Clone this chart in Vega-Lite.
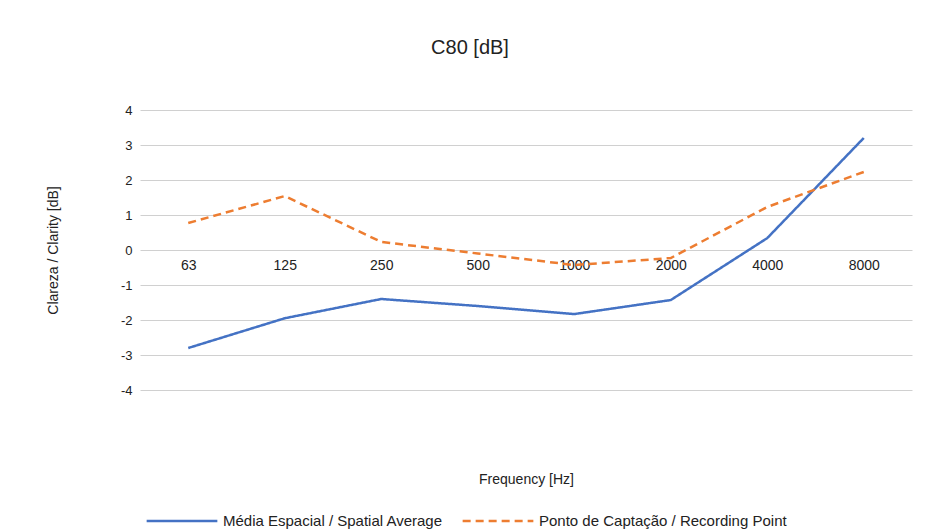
{
  "$schema": "https://vega.github.io/schema/vega-lite/v6.json",
  "width": 772,
  "height": 280,
  "autosize": "none",
  "padding": {"left": 140, "top": 110, "right": 21, "bottom": 142},
  "background": "#ffffff",
  "title": {"text": "C80 [dB]", "fontSize": 20, "font": "Liberation Sans", "fontWeight": "normal", "color": "#222222", "offset": 46, "dx": -56},
  "data": {
    "values": [
      {"f": "63", "s": "Média Espacial / Spatial Average", "v": -2.8},
      {"f": "125", "s": "Média Espacial / Spatial Average", "v": -1.95},
      {"f": "250", "s": "Média Espacial / Spatial Average", "v": -1.4},
      {"f": "500", "s": "Média Espacial / Spatial Average", "v": -1.6},
      {"f": "1000", "s": "Média Espacial / Spatial Average", "v": -1.83},
      {"f": "2000", "s": "Média Espacial / Spatial Average", "v": -1.43},
      {"f": "4000", "s": "Média Espacial / Spatial Average", "v": 0.34},
      {"f": "8000", "s": "Média Espacial / Spatial Average", "v": 3.2},
      {"f": "63", "s": "Ponto de Captação / Recording Point", "v": 0.77},
      {"f": "125", "s": "Ponto de Captação / Recording Point", "v": 1.54},
      {"f": "250", "s": "Ponto de Captação / Recording Point", "v": 0.23},
      {"f": "500", "s": "Ponto de Captação / Recording Point", "v": -0.1},
      {"f": "1000", "s": "Ponto de Captação / Recording Point", "v": -0.43},
      {"f": "2000", "s": "Ponto de Captação / Recording Point", "v": -0.23},
      {"f": "4000", "s": "Ponto de Captação / Recording Point", "v": 1.23},
      {"f": "8000", "s": "Ponto de Captação / Recording Point", "v": 2.23}
    ]
  },
  "mark": {"type": "line", "strokeWidth": 2.5},
  "encoding": {
    "x": {
      "field": "f", "type": "ordinal", "sort": null,
      "scale": {"paddingOuter": 0.5, "paddingInner": 0},
      "axis": {"title": "Frequency [Hz]", "labelAngle": 0, "offset": -140, "domain": false, "ticks": false, "labelPadding": 8, "titlePadding": 200, "labelFontSize": 14, "titleFontSize": 14, "titleFontWeight": "normal", "labelColor": "#222", "titleColor": "#222", "labelFont": "Liberation Sans", "titleFont": "Liberation Sans"}
    },
    "y": {
      "field": "v", "type": "quantitative",
      "scale": {"domain": [-4, 4]},
      "axis": {"title": "Clareza / Clarity [dB]", "values": [-4, -3, -2, -1, 0, 1, 2, 3, 4], "labelOverlap": false, "labelExpr": "'' + datum.value", "domain": false, "ticks": false, "labelPadding": 8, "titlePadding": 60, "gridColor": "#d0d0d0", "labelFontSize": 13, "titleFontSize": 14, "titleFontWeight": "normal", "labelColor": "#222", "titleColor": "#222", "labelFont": "Liberation Sans", "titleFont": "Liberation Sans"}
    },
    "color": {
      "field": "s", "type": "nominal",
      "scale": {"range": ["#4472c4", "#ed7d31"]},
      "legend": {"title": null, "orient": "none", "direction": "horizontal", "legendX": 5, "legendY": 374, "symbolType": "stroke", "symbolSize": 5000, "symbolStrokeWidth": 2.5, "labelFontSize": 15, "labelFont": "Liberation Sans", "labelColor": "#222", "columnPadding": 14, "labelLimit": 400}
    },
    "strokeDash": {
      "field": "s", "type": "nominal",
      "scale": {"range": [[1, 0], [8, 5]]},
      "legend": null
    }
  },
  "config": {"view": {"stroke": null}}
}
